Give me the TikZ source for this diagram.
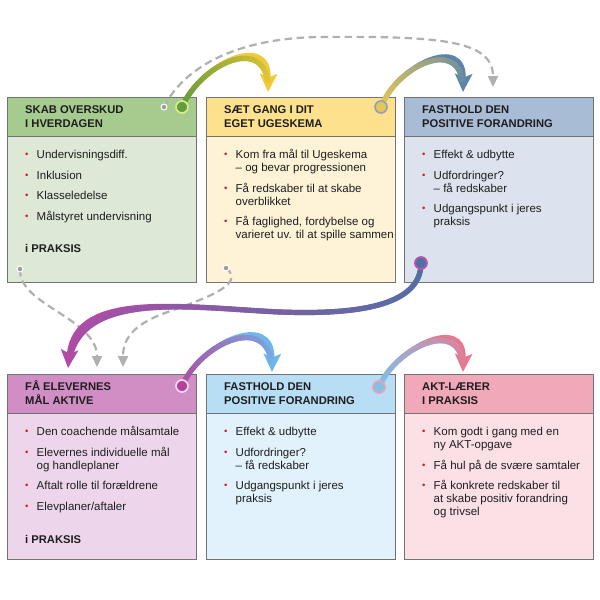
\documentclass[tikz,border=0pt]{standalone}
\usepackage{fontspec}
\setmainfont{Liberation Sans}
\usetikzlibrary{arrows.meta,decorations.markings}

\definecolor{bord}{RGB}{115,115,115}
\definecolor{txt}{RGB}{30,30,30}
\definecolor{bred}{RGB}{205,30,45}
\definecolor{hA}{RGB}{166,203,143}\definecolor{bA}{RGB}{222,232,214}
\definecolor{hB}{RGB}{253,225,140}\definecolor{bB}{RGB}{254,243,214}
\definecolor{hC}{RGB}{168,188,213}\definecolor{bC}{RGB}{220,227,238}
\definecolor{hD}{RGB}{208,142,196}\definecolor{bD}{RGB}{237,214,236}
\definecolor{hE}{RGB}{184,222,246}\definecolor{bE}{RGB}{226,242,252}
\definecolor{hF}{RGB}{241,168,184}\definecolor{bF}{RGB}{251,224,230}
\definecolor{gline}{RGB}{175,175,180}
\definecolor{aOs}{RGB}{100,155,60}\definecolor{aOe}{RGB}{240,202,55}
\definecolor{aTs}{RGB}{228,200,85}\definecolor{aTe}{RGB}{92,132,170}
\definecolor{aHs}{RGB}{80,112,165}\definecolor{aHe}{RGB}{178,75,165}
\definecolor{aVs}{RGB}{172,78,160}\definecolor{aVe}{RGB}{112,182,236}
\definecolor{aFs}{RGB}{130,192,232}\definecolor{aFe}{RGB}{232,120,145}
\definecolor{cOr}{RGB}{215,235,140}
\definecolor{cTr}{RGB}{150,160,185}
\definecolor{cHr}{RGB}{192,82,172}
\definecolor{cVf}{RGB}{182,66,150}\definecolor{cVr}{RGB}{236,216,242}
\definecolor{cFr}{RGB}{236,160,180}

\newcommand{\bitem}[1]{\par\hangindent=11.5pt\hangafter=1\noindent\makebox[11.5pt][l]{\raisebox{0.6pt}{\fontsize{9.5}{9.5}\selectfont\textcolor{bred}{\textbullet}}}#1\par}
\newcommand{\isep}{\vspace{7.5pt}}
\newcommand{\bodyfont}{\fontsize{11.5}{13}\selectfont}
\newcommand{\hdrfont}{\fontsize{11.2}{13.5}\selectfont\bfseries}

\tikzset{
  hdr/.style={draw=bord, line width=1.2pt, anchor=north west, minimum width=189pt, minimum height=39pt, inner sep=0},
  bdy/.style={draw=bord, line width=1.2pt, anchor=north west, minimum width=189pt, minimum height=145.5pt, inner sep=0},
  tnode/.style={anchor=base west, inner sep=0, text=txt},
  gdash/.style={draw=gline, line width=2.2pt, dash pattern=on 7.5pt off 4.5pt, -{Triangle[length=11pt,width=10pt]}},
  ring/.style={circle, minimum size=12pt, inner sep=0, line width=1.7pt},
  gdot/.style={circle, minimum size=6pt, inner sep=0, line width=1pt, fill=gline!90!black, draw=white},
  garrow/.style 2 args={
    draw=#2, line width=4.6pt,
    -{Stealth[length=18pt,width=17pt,inset=3.5pt]},
    postaction={decorate, decoration={markings,
      mark=between positions 0 and -10pt step 0.8pt with {
        \pgfmathtruncatemacro{\gp}{\pgfkeysvalueof{/pgf/decoration/mark info/distance from start}/\pgfdecoratedpathlength*100}
        \draw[line width=5.2pt, draw=#2!\gp!#1, arrows=-] (-0.7pt,0) -- (0.7pt,0);
      }}}
  }
}

\begin{document}
\begin{tikzpicture}[x=1pt,y=-1pt]
\useasboundingbox (0,0) rectangle (600,600);
\fill[white] (0,0) rectangle (600,600);

% ---- boxes, top row
\node[bdy, fill=bA] (B1) at (7,136) {};
\node[hdr, fill=hA] (H1) at (7,97) {};
\node[bdy, fill=bB] (B2) at (206,136) {};
\node[hdr, fill=hB] (H2) at (206,97) {};
\node[bdy, fill=bC] (B3) at (404,136) {};
\node[hdr, fill=hC] (H3) at (404,97) {};
% ---- boxes, bottom row
\node[bdy, fill=bD] (B4) at (7,413) {};
\node[hdr, fill=hD] (H4) at (7,374) {};
\node[bdy, fill=bE] (B5) at (206,413) {};
\node[hdr, fill=hE] (H5) at (206,374) {};
\node[bdy, fill=bF] (B6) at (404,413) {};
\node[hdr, fill=hF] (H6) at (404,374) {};

% ---- header texts
\node[tnode] (T1) at (25,113.5) {\parbox[t]{170pt}{\hdrfont SKAB OVERSKUD\\I HVERDAGEN}};
\node[tnode] (T2) at (224,113.5) {\parbox[t]{170pt}{\hdrfont SÆT GANG I DIT\\EGET UGESKEMA}};
\node[tnode] (T3) at (422,113.5) {\parbox[t]{170pt}{\hdrfont FASTHOLD DEN\\POSITIVE FORANDRING}};
\node[tnode] (T4) at (25,390.5) {\parbox[t]{170pt}{\hdrfont FÅ ELEVERNES\\MÅL AKTIVE}};
\node[tnode] (T5) at (224,390.5) {\parbox[t]{170pt}{\hdrfont FASTHOLD DEN\\POSITIVE FORANDRING}};
\node[tnode] (T6) at (422,390.5) {\parbox[t]{170pt}{\hdrfont AKT-LÆRER\\I PRAKSIS}};

% ---- body texts
\node[tnode] (L1) at (25,158.5) {\parbox[t]{170pt}{\bodyfont
  \bitem{Undervisningsdiff.}\isep
  \bitem{Inklusion}\isep
  \bitem{Klasseledelse}\isep
  \bitem{Målstyret undervisning}}};
\node[tnode] (P1) at (25,252) {\hdrfont i PRAKSIS};
\node[tnode] (L2) at (224,158.5) {\parbox[t]{170pt}{\bodyfont
  \bitem{Kom fra mål til Ugeskema\\– og bevar progressionen}\isep
  \bitem{Få redskaber til at skabe\\overblikket}\isep
  \bitem{Få faglighed, fordybelse og\\varieret uv. til at spille sammen}}};
\node[tnode] (L3) at (422,158.5) {\parbox[t]{170pt}{\bodyfont
  \bitem{Effekt \& udbytte}\isep
  \bitem{Udfordringer?\\– få redskaber}\isep
  \bitem{Udgangspunkt i jeres\\praksis}}};
\node[tnode] (L4) at (25,435.5) {\parbox[t]{170pt}{\bodyfont
  \bitem{Den coachende målsamtale}\isep
  \bitem{Elevernes individuelle mål\\og handleplaner}\isep
  \bitem{Aftalt rolle til forældrene}\isep
  \bitem{Elevplaner/aftaler}}};
\node[tnode] (P4) at (25,543) {\hdrfont i PRAKSIS};
\node[tnode] (L5) at (224,435.5) {\parbox[t]{170pt}{\bodyfont
  \bitem{Effekt \& udbytte}\isep
  \bitem{Udfordringer?\\– få redskaber}\isep
  \bitem{Udgangspunkt i jeres\\praksis}}};
\node[tnode] (L6) at (422,435.5) {\parbox[t]{170pt}{\bodyfont
  \bitem{Kom godt i gang med en\\ny AKT-opgave}\isep
  \bitem{Få hul på de svære samtaler}\isep
  \bitem{Få konkrete redskaber til\\at skabe positiv forandring\\og trivsel}}};

% ---- connector end points
\coordinate (gd1) at (164,107);
\coordinate (gt1) at (493,87);
\coordinate (gd2) at (20,269);
\coordinate (gt2) at (97,367);
\coordinate (gd3) at (226,268);
\coordinate (gt3) at (123,367);
\coordinate (s1) at (182,107); \coordinate (e1) at (268,92);
\coordinate (s2) at (381,107); \coordinate (e2) at (463,92);
\coordinate (s3) at (421,263); \coordinate (e3) at (68,368);
\coordinate (s4) at (182,386); \coordinate (e4) at (272,372);
\coordinate (s5) at (379,387); \coordinate (e5) at (463,372);

% ---- dashed grey connectors
\draw[gdash] (gd1) .. controls (185,65) and (240,38) .. (320,37) .. controls (440,36) and (493,40) .. (gt1);
\draw[gdash] (gd2) .. controls (18,305) and (97,318) .. (gt2);
\draw[gdash] (gd3) .. controls (248,285) and (200,300) .. (165,313) .. controls (132,325) and (123,340) .. (gt3);

% ---- coloured connectors
\draw[garrow={aOs}{aOe}] (s1) .. controls (202,62) and (270,32) .. (e1);
\draw[garrow={aTs}{aTe}] (s2) .. controls (398,64) and (465,34) .. (e2);
\draw[garrow={aHs}{aHe}] (s3) .. controls (421,305) and (360,315) .. (280,312) .. controls (190,308) and (75,288) .. (e3);
\draw[garrow={aVs}{aVe}] (s4) .. controls (202,341) and (273,311) .. (e4);
\draw[garrow={aFs}{aFe}] (s5) .. controls (396,347) and (465,314) .. (e5);

% ---- dots and rings
\node[gdot] (D1) at (gd1) {};
\node[gdot] (D2) at (gd2) {};
\node[gdot] (D3) at (gd3) {};
\node[ring, fill=aOs, draw=cOr] (C1) at (s1) {};
\node[ring, fill=aTs, draw=cTr] (C2) at (s2) {};
\node[ring, fill=aHs, draw=cHr] (C3) at (s3) {};
\node[ring, fill=cVf, draw=cVr] (C4) at (s4) {};
\node[ring, fill=aFs, draw=cFr] (C5) at (s5) {};
\end{tikzpicture}
\end{document}
